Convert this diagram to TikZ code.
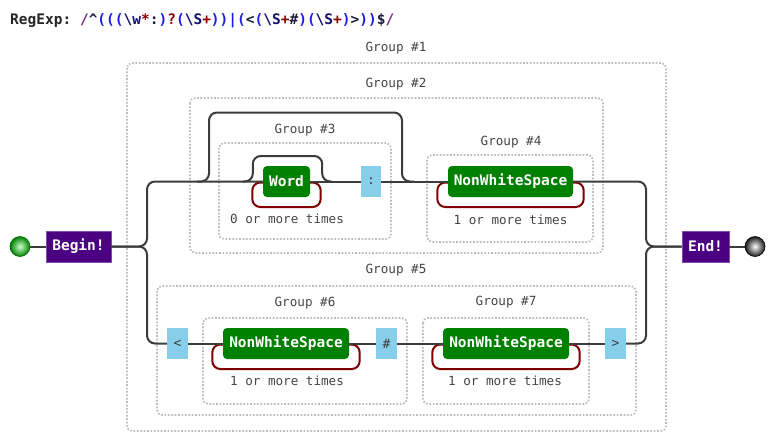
\documentclass[tikz,border=0pt]{standalone}
\usepackage{fontspec}
\setmonofont{DejaVu Sans Mono}
\usepackage{tikz}
\usetikzlibrary{positioning}
\definecolor{railgray}{HTML}{3C3C3C}
\definecolor{loopred}{HTML}{800000}
\definecolor{grpgray}{HTML}{BDBDBD}
\definecolor{txtgray}{HTML}{444444}
\definecolor{tokgreen}{HTML}{008000}
\definecolor{litblue}{HTML}{87CEEB}
\definecolor{termpurple}{HTML}{4B0082}
\definecolor{rxslash}{HTML}{7A2B8F}
\definecolor{rxpar}{HTML}{1E1EE6}
\definecolor{rxesc}{HTML}{10106E}
\definecolor{rxquant}{HTML}{8B0000}
\definecolor{rxlit}{HTML}{1C1C3C}
\tikzset{
  rail/.style={draw=railgray,line width=2pt,rounded corners=8pt},
  loopback/.style={draw=loopred,line width=2pt,rounded corners=8pt},
  grp/.style={draw=grpgray,line width=1.7pt,dash pattern=on 1.7pt off 1.7pt,rounded corners=5pt},
  grplabel/.style={text=txtgray,font=\ttfamily\fontsize{12.6}{15}\selectfont,inner sep=0pt},
  note/.style={grplabel},
  token/.style={fill=tokgreen,rounded corners=4pt,text=white,inner sep=0pt,
    minimum height=31pt,font=\ttfamily\bfseries\fontsize{14.5}{17}\selectfont},
  litbox/.style={fill=litblue,inner sep=0pt,minimum width=21pt,minimum height=31pt,
    text=railgray,font=\ttfamily\fontsize{13}{15}\selectfont},
  termbox/.style={fill=termpurple,draw=termpurple!70!white,line width=0.8pt,inner sep=0pt,
    minimum height=31pt,text=white,font=\ttfamily\bfseries\fontsize{14.5}{17}\selectfont},
}
\newcommand{\rx}[2]{\textcolor{#1}{#2}}
\newcommand{\moreloop}[1]{%
  \draw[loopback] ([yshift=-1pt]#1.west) -- ++(-10.5,0) -- ++(0,24.5)
    -| ([xshift=10.5pt,yshift=-1pt]#1.east) -- ([yshift=-1pt]#1.east);}
\begin{document}
\begin{tikzpicture}[x=1pt,y=-1pt]
\useasboundingbox (0,0) rectangle (775,444);
% title
\node[anchor=base west,inner sep=0pt,font=\ttfamily\bfseries\fontsize{14.5}{17}\selectfont] (title) at (10,25)
  {\textcolor{black!85}{RegExp:} \rx{rxslash}{/}\rx{rxlit}{\textasciicircum}\rx{rxpar}{(((}\rx{rxesc}{\textbackslash w}\rx{rxquant}{*}\rx{rxlit}{:}\rx{rxpar}{)}\rx{rxquant}{?}\rx{rxpar}{(}\rx{rxesc}{\textbackslash S}\rx{rxquant}{+}\rx{rxpar}{))|(}\rx{rxlit}{<}\rx{rxpar}{(}\rx{rxesc}{\textbackslash S}\rx{rxquant}{+}\rx{rxlit}{\#}\rx{rxpar}{)(}\rx{rxesc}{\textbackslash S}\rx{rxquant}{+}\rx{rxpar}{)}\rx{rxlit}{>}\rx{rxpar}{))}\rx{rxlit}{\$}\rx{rxslash}{/}};
% groups
\draw[grp] (127,63) rectangle (666,431);
\node[grplabel] (g1) at (396,48) {Group \#1};
\draw[grp] (190,98) rectangle (603,253);
\node[grplabel] (g2) at (396,84) {Group \#2};
\draw[grp] (219,143) rectangle (391,239);
\node[grplabel] (g3) at (305,130) {Group \#3};
\draw[grp] (427,155) rectangle (593,242);
\node[grplabel] (g4) at (511,142) {Group \#4};
\draw[grp] (157,286) rectangle (636,415);
\node[grplabel] (g5) at (396,270) {Group \#5};
\draw[grp] (203,318) rectangle (407,404);
\node[grplabel] (g6) at (305,303) {Group \#6};
\draw[grp] (423,318) rectangle (589,404);
\node[grplabel] (g7) at (506,302) {Group \#7};
% nodes
\coordinate (start) at (20,246.5);
\coordinate (finish) at (755,246.5);
\node[termbox,minimum width=65pt] (begin) at (78.5,246.5) {Begin!};
\node[termbox,minimum width=47pt] (endb) at (705.5,246.5) {End!};
\node[token,minimum width=47pt] (word) at (286.5,181.5) {Word};
\node[litbox,minimum width=20pt] (colon) at (371,181.5) {:};
\node[token,minimum width=125pt] (nwsA) at (510.5,181.5) {NonWhiteSpace};
\node[litbox] (lt) at (177.5,343.5) {<};
\node[token,minimum width=126pt] (nwsB) at (286,343.5) {NonWhiteSpace};
\node[litbox] (hash) at (386.5,343.5) {\#};
\node[token,minimum width=126pt] (nwsC) at (506,343.5) {NonWhiteSpace};
\node[litbox] (gt) at (615.5,343.5) {>};
\node[note] (wordnote) at (287,219) {0 or more times};
\node[note] (nwsAnote) at (510.5,220) {1 or more times};
\node[note] (nwsBnote) at (287,381) {1 or more times};
\node[note] (nwsCnote) at (505,381) {1 or more times};
% loops
\moreloop{word}
\moreloop{nwsA}
\moreloop{nwsB}
\moreloop{nwsC}
% rails
\coordinate (splitL) at (147,246.5);
\coordinate (splitR) at (646,246.5);
\coordinate (optL) at (209,181.5);
\coordinate (optR) at (402,181.5);
\draw[rail] (start) -- (begin.west);
\draw[rail] (endb.east) -- (finish);
\draw[rail] (begin.east) -- (splitL) |- (word.west);
\draw[rail] (begin.east) -- (splitL) |- (lt.west);
\draw[rail] ([xshift=-12pt]optL) -- (optL) -- ++(0,-69) -| (optR) -- ([xshift=12pt]optR);
\draw[rail] ([xshift=-20pt]word.west) -- ([xshift=-10pt]word.west) -- ++(0,-25.5)
  -| ([xshift=12pt]word.east) -- ([xshift=22pt]word.east);
\draw[rail] (word.east) -- (colon.west);
\draw[rail] (colon.east) -- (nwsA.west);
\draw[rail] (nwsA.east) -| (splitR) -- (endb.west);
\draw[rail] (lt.east) -- (nwsB.west);
\draw[rail] (nwsB.east) -- (hash.west);
\draw[rail] (hash.east) -- (nwsC.west);
\draw[rail] (nwsC.east) -- (gt.west);
\draw[rail] (gt.east) -| (splitR) -- (endb.west);
% end points
\shade[inner color=green!20!white,outer color=green!50!black,draw=green!40!black,line width=0.6pt] (start) circle[radius=10pt];
\shade[inner color=white,outer color=black!90,draw=black,line width=0.6pt] (finish) circle[radius=10pt];
\end{tikzpicture}
\end{document}
